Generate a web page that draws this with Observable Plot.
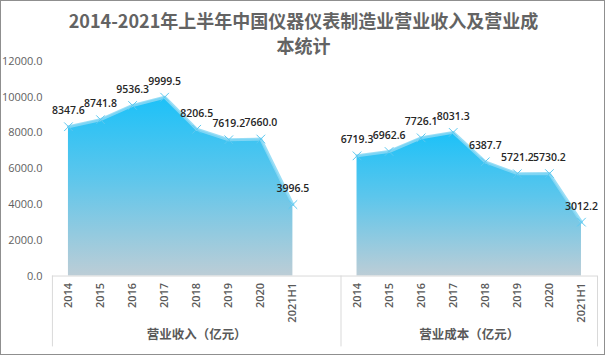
<!DOCTYPE html>
<html><head><meta charset="utf-8">
<script src="https://cdn.jsdelivr.net/npm/d3@7"></script>
<script src="https://cdn.jsdelivr.net/npm/@observablehq/plot@0.6"></script>
<style>
body{margin:0;background:#fff;}
#wrap{position:relative;width:605px;height:355px;box-sizing:border-box;border:1px solid #8f8f8f;overflow:hidden;background:#fff;}
#title{position:absolute;left:0;top:7px;width:605px;text-align:center;font-family:"Noto Sans CJK SC",sans-serif;font-size:18px;font-weight:bold;line-height:25px;color:#636363;}
#chart{position:absolute;left:-1px;top:-1px;}
</style></head><body>
<div id="wrap"><div id="chart"></div><div id="title">2014-2021年上半年中国仪器仪表制造业营业收入及营业成<br>本统计</div></div>
<script>
const years = ["2014","2015","2016","2017","2018","2019","2020","2021H1"];
const revenue = [8347.6, 8741.8, 9536.3, 9999.5, 8206.5, 7619.2, 7660.0, 3996.5];
const cost = [6719.3, 6962.6, 7726.1, 8031.3, 6387.7, 5721.2, 5730.2, 3012.2];
const groups = ["营业收入（亿元）", "营业成本（亿元）"];
const yTicks = [0, 2000, 4000, 6000, 8000, 10000, 12000];

const offset = years.length + 1; // blank category between groups
const rows = [
  ...revenue.map((v, k) => ({i: k, v, s: groups[0], year: years[k]})),
  ...cost.map((v, k) => ({i: k + offset, v, s: groups[1], year: years[k]}))
];
const groupCenters = [
  {x: (0 + offset - 1) / 2, label: groups[0]},
  {x: (offset + offset + years.length - 1) / 2, label: groups[1]}
];
const borders = [-0.5, offset - 0.5, offset + years.length - 0.5];

const defs = () => {
  const d = d3.create("svg:defs");
  const g = d.append("linearGradient").attr("id", "areaGrad")
    .attr("x1", 0).attr("y1", 0).attr("x2", 0).attr("y2", 1);
  g.append("stop").attr("offset", "0%").attr("stop-color", "#1cc1f8");
  g.append("stop").attr("offset", "45%").attr("stop-color", "#5cc6ec");
  g.append("stop").attr("offset", "100%").attr("stop-color", "#bccdd6");
  return d.node();
};

const chart = Plot.plot({
  width: 605,
  height: 355,
  marginLeft: 52,
  marginRight: 7,
  marginTop: 61,
  marginBottom: 79,
  style: {background: "transparent", overflow: "visible"},
  x: {domain: [-0.5, offset + years.length - 0.5], axis: null},
  y: {domain: [0, 12000]},
  marks: [
    defs,
    Plot.axisY({ticks: yTicks, tickFormat: d => d.toFixed(1), tickSize: 0, tickPadding: 10, label: null,
      fontSize: 11, fill: "#5f5f5f", fontFamily: "Open Sans, sans-serif"}),
    Plot.areaY(rows, {x: "i", y: "v", z: "s", fill: "url(#areaGrad)", curve: "linear"}),
    Plot.lineY(rows, {x: "i", y: "v", z: "s", stroke: "#8ad8f5", strokeWidth: 3, strokeOpacity: 0.85}),
    Plot.dot(rows, {x: "i", y: "v", symbol: "times", r: 4, stroke: "#5cc8f0", strokeWidth: 1}),
    Plot.text(rows, {x: "i", y: "v", text: d => d.v.toFixed(1), dy: -16, fontSize: 10.5, fontWeight: 600,
      fill: "#262626", fontFamily: "Open Sans, sans-serif"}),
    Plot.ruleY([0], {stroke: "#d9d9d9"}),
    Plot.ruleX(borders, {stroke: "#d9d9d9", insetTop: 215, insetBottom: -71}),
    Plot.text(rows, {x: "i", frameAnchor: "bottom", dy: 7, text: "year", rotate: -90, textAnchor: "end",
      lineAnchor: "middle", fontSize: 11, fontWeight: 600, fill: "#595959", fontFamily: "Open Sans, sans-serif"}),
    Plot.text(groupCenters, {x: "x", frameAnchor: "bottom", dy: 63, text: "label", fontSize: 12.5, fontWeight: 600,
      fill: "#595959", fontFamily: "Noto Sans CJK SC, sans-serif"})
  ]
});
document.getElementById("chart").appendChild(chart);
</script>
</body></html>
